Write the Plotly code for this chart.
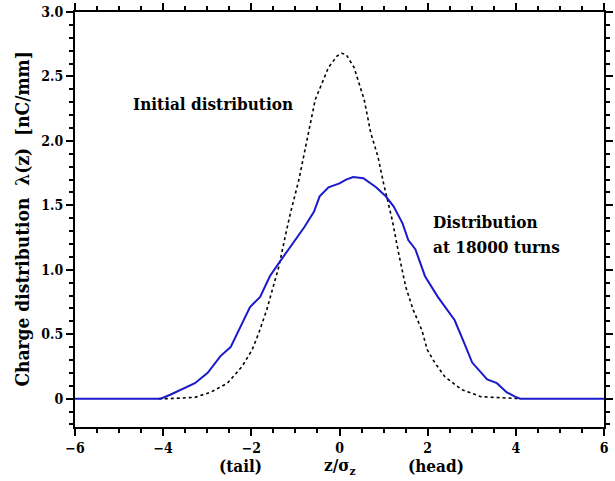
import plotly.graph_objects as go

# Initial distribution (dashed)
z_init = [-4.1, -3.88, -3.28, -2.92, -2.54, -2.21, -1.98, -1.83, -1.65, -1.38, -1.23, -1.12, -0.92,
          -0.74, -0.55, -0.25, -0.05, 0.05, 0.15, 0.33, 0.56, 0.71, 0.87, 1.0, 1.2, 1.34, 1.5, 1.67,
          1.87, 1.99, 2.16, 2.39, 2.77, 3.21, 3.88, 4.1]
lam_init = [0.0, 0.0, 0.01, 0.05, 0.12, 0.25, 0.38, 0.51, 0.69, 1.02, 1.26, 1.43, 1.70,
            2.00, 2.32, 2.57, 2.66, 2.68, 2.67, 2.57, 2.32, 2.06, 1.88, 1.67, 1.38, 1.13, 0.87, 0.69,
            0.53, 0.38, 0.28, 0.17, 0.07, 0.015, 0.0, 0.0]

# Distribution at 18000 turns (blue)
z_turn = [-6.0, -4.06, -3.84, -3.59, -3.28, -2.99, -2.7, -2.47, -2.25, -2.03, -1.8, -1.58, -1.38,
          -1.05, -0.8, -0.58, -0.45, -0.25, 0.0, 0.15, 0.31, 0.54, 0.83, 1.05, 1.23, 1.43, 1.56,
          1.72, 1.94, 2.23, 2.61, 2.83, 3.01, 3.35, 3.57, 3.79, 3.98, 4.1, 6.0]
lam_turn = [0.0, 0.0, 0.03, 0.07, 0.12, 0.20, 0.33, 0.40, 0.56, 0.71, 0.79, 0.95, 1.05,
            1.21, 1.33, 1.45, 1.57, 1.64, 1.67, 1.70, 1.72, 1.71, 1.64, 1.57, 1.49, 1.36, 1.23,
            1.16, 0.95, 0.79, 0.61, 0.43, 0.28, 0.15, 0.12, 0.05, 0.015, 0.0, 0.0]

x_ticks = [-6, -4, -2, 0, 2, 4, 6]
x_labels = ["−6", "−4", "−2", "0", "2", "4", "6"]
y_ticks = [0, 0.5, 1.0, 1.5, 2.0, 2.5, 3.0]
y_labels = ["0", "0.5", "1.0", "1.5", "2.0", "2.5", "3.0"]

FONT = "DejaVu Serif Condensed, DejaVu Serif, serif"

fig = go.Figure()
fig.add_trace(go.Scatter(x=z_init, y=lam_init, mode="lines",
                         line=dict(color="black", width=1.6, dash="3px,3px"),
                         showlegend=False))
fig.add_trace(go.Scatter(x=z_turn, y=lam_turn, mode="lines",
                         line=dict(color="#1a1acc", width=2),
                         showlegend=False))

axis_common = dict(showgrid=False, zeroline=False, showline=True, linecolor="black",
                   linewidth=2, mirror="allticks", ticks="outside", ticklen=7,
                   tickwidth=2, tickcolor="black",
                   tickfont=dict(family=FONT, size=14, color="black", weight="bold"))

fig.update_xaxes(range=[-6, 6], tickvals=x_ticks, ticktext=x_labels,
                 minor=dict(dtick=0.5, tick0=0, ticks="outside", ticklen=4,
                            tickwidth=1.5, tickcolor="black"),
                 **axis_common)
fig.update_yaxes(range=[-0.22, 3.0], tickvals=y_ticks, ticktext=y_labels,
                 minor=dict(dtick=0.1, tick0=0, ticks="outside", ticklen=4,
                            tickwidth=1.5, tickcolor="black"),
                 **axis_common)

tfont = dict(family=FONT, size=17, color="black", weight="bold")
fig.update_layout(
    width=615, height=481,
    margin=dict(l=75, r=2, t=12, b=54),
    plot_bgcolor="white", paper_bgcolor="white",
    annotations=[
        dict(x=-2.86, y=2.29, xref="x", yref="y", text="Initial distribution",
             showarrow=False, font=tfont, xanchor="center", yanchor="middle"),
        dict(x=2.08, y=1.37, xref="x", yref="y", text="Distribution",
             showarrow=False, font=tfont, xanchor="left", yanchor="middle"),
        dict(x=2.08, y=1.18, xref="x", yref="y", text="at 18000 turns",
             showarrow=False, font=tfont, xanchor="left", yanchor="middle"),
        dict(x=-0.102, y=0.5, xref="paper", yref="paper",
             text="Charge distribution  λ(z)  [nC/mm]", textangle=-90,
             showarrow=False, font=dict(family=FONT, size=19, color="black", weight="bold"),
             xanchor="center", yanchor="middle"),
        dict(x=-2.25, y=-0.094, xref="x", yref="paper", text="(tail)",
             showarrow=False, font=tfont, xanchor="center", yanchor="middle"),
        dict(x=0.0, y=-0.094, xref="x", yref="paper", text="z/σ<sub>z</sub>",
             showarrow=False, font=tfont, xanchor="center", yanchor="middle"),
        dict(x=2.2, y=-0.094, xref="x", yref="paper", text="(head)",
             showarrow=False, font=tfont, xanchor="center", yanchor="middle"),
    ],
)

fig.write_html("out.html")
